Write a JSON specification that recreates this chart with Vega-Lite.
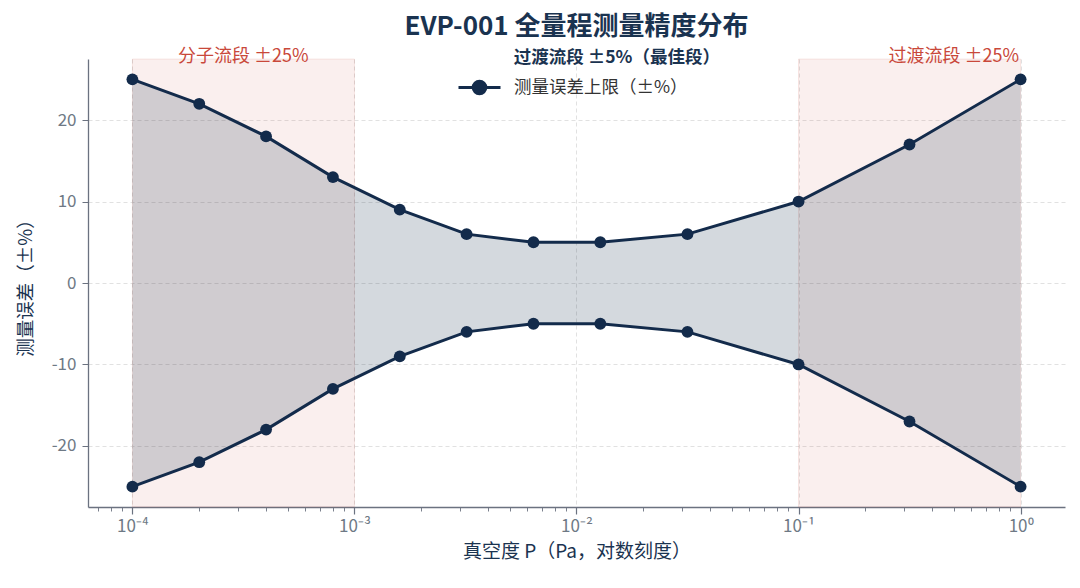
{
  "$schema": "https://vega.github.io/schema/vega-lite/v6.json",
  "autosize": {"type": "none"},
  "width": 977,
  "height": 448,
  "padding": {"left": 88, "top": 59, "right": 15, "bottom": 81},
  "background": "white",
  "config": {
    "font": "Noto Sans CJK SC",
    "view": {"stroke": null},
    "axis": {"labelFont": "Noto Sans CJK SC", "titleFont": "Noto Sans CJK SC"}
  },
  "title": {
    "text": "EVP-001 全量程测量精度分布",
    "fontSize": 26,
    "fontWeight": "bold",
    "color": "#1a3350",
    "anchor": "middle",
    "offset": 8
  },
  "datasets": {
    "main": [
      {"p": 0.0001, "upper": 25, "lower": -25},
      {"p": 0.0002, "upper": 22, "lower": -22},
      {"p": 0.0004, "upper": 18, "lower": -18},
      {"p": 0.0008, "upper": 13, "lower": -13},
      {"p": 0.0016, "upper": 9, "lower": -9},
      {"p": 0.0032, "upper": 6, "lower": -6},
      {"p": 0.0064, "upper": 5, "lower": -5},
      {"p": 0.0128, "upper": 5, "lower": -5},
      {"p": 0.0316, "upper": 6, "lower": -6},
      {"p": 0.1, "upper": 10, "lower": -10},
      {"p": 0.316, "upper": 17, "lower": -17},
      {"p": 1, "upper": 25, "lower": -25}
    ],
    "bands": [
      {"x0": 0.0001, "x1": 0.001},
      {"x0": 0.1, "x1": 1}
    ]
  },
  "layer": [
    {
      "data": {"name": "bands"},
      "mark": {"type": "rect", "fill": "#c0392b", "fillOpacity": 0.08, "stroke": "#c0392b", "strokeOpacity": 0.1, "strokeWidth": 1},
      "encoding": {
        "x": {
          "field": "x0", "type": "quantitative",
          "scale": {"type": "log", "domain": [0.0000631, 1.585], "nice": false},
          "axis": {
            "values": [0.00007, 0.00008, 0.00009, 0.0001, 0.0002, 0.0003, 0.0004, 0.0005, 0.0006, 0.0007, 0.0008, 0.0009, 0.001, 0.002, 0.003, 0.004, 0.005, 0.006, 0.007, 0.008, 0.009, 0.01, 0.02, 0.03, 0.04, 0.05, 0.06, 0.07, 0.08, 0.09, 0.1, 0.2, 0.3, 0.4, 0.5, 0.6, 0.7, 0.8, 0.9, 1],
            "labelExpr": "abs(log(datum.value)/LN10 - round(log(datum.value)/LN10)) < 0.001 ? ['10⁻⁴','10⁻³','10⁻²','10⁻¹','10⁰'][round(log(datum.value)/LN10)+4] : ''",
            "tickSize": {"condition": {"test": "abs(log(datum.value)/LN10 - round(log(datum.value)/LN10)) < 0.001", "value": 7}, "value": 4},
            "tickWidth": {"condition": {"test": "abs(log(datum.value)/LN10 - round(log(datum.value)/LN10)) < 0.001", "value": 1.2}, "value": 0.9},
            "grid": true,
            "gridOpacity": {"condition": {"test": "abs(log(datum.value)/LN10 - round(log(datum.value)/LN10)) < 0.001", "value": 1}, "value": 0},
            "gridColor": "#d9d9d9",
            "gridDash": [4, 3],
            "gridWidth": 0.8,
            "domainColor": "#6b7280",
            "domainWidth": 1.3,
            "tickColor": "#6b7280",
            "labelColor": "#6e7985",
            "labelFontSize": 17,
            "labelPadding": 4,
            "labelFlush": false,
            "labelOverlap": false,
            "title": "真空度 P（Pa，对数刻度）",
            "titleFontSize": 19,
            "titleFontWeight": "normal",
            "titleColor": "#1a3350",
            "titlePadding": 8
          }
        },
        "x2": {"field": "x1"}
      }
    },
    {
      "data": {"name": "main"},
      "mark": {"type": "area", "fill": "#0f2a4a", "fillOpacity": 0.18},
      "encoding": {
        "x": {"field": "p", "type": "quantitative"},
        "y": {
          "field": "lower", "type": "quantitative",
          "scale": {"domain": [-27.5, 27.5], "nice": false, "zero": false},
          "axis": {
            "values": [-20, -10, 0, 10, 20],
            "labelExpr": "'' + datum.value",
            "grid": true,
            "gridColor": "#d9d9d9",
            "gridDash": [4, 3],
            "gridWidth": 0.8,
            "domainColor": "#6b7280",
            "domainWidth": 1.3,
            "tickColor": "#6b7280",
            "tickSize": 6,
            "labelColor": "#6e7985",
            "labelFontSize": 17,
            "labelPadding": 6,
            "title": "测量误差（±%）",
            "titleFontSize": 18.5,
            "titleFontWeight": "normal",
            "titleColor": "#1a3350",
            "titlePadding": 16
          }
        },
        "y2": {"field": "upper"}
      }
    },
    {
      "data": {"name": "main"},
      "mark": {"type": "line", "strokeWidth": 3},
      "encoding": {
        "x": {"field": "p", "type": "quantitative"},
        "y": {"field": "upper", "type": "quantitative"},
        "stroke": {
          "datum": "测量误差上限（±%）",
          "type": "nominal",
          "scale": {"range": ["#132b4b"]},
          "legend": {
            "orient": "none",
            "legendX": 369,
            "legendY": 6,
            "title": null,
            "padding": 0,
            "symbolType": "M-1,0H1M-0.3,0A0.3,0.3 0 1,1 0.3,0A0.3,0.3 0 1,1 -0.3,0",
            "symbolSize": 1764,
            "symbolStrokeWidth": 3,
            "symbolStrokeColor": "#132b4b",
            "symbolFillColor": "#132b4b",
            "labelFontSize": 17.5,
            "labelColor": "#333333",
            "labelFont": "Noto Sans CJK SC",
            "labelOffset": 12,
            "labelLimit": 400,
            "encode": {"symbols": {"update": {"fill": {"value": "#132b4b"}, "stroke": {"value": "#132b4b"}, "strokeWidth": {"value": 3}}}}
          }
        }
      }
    },
    {
      "data": {"name": "main"},
      "mark": {"type": "line", "strokeWidth": 3, "color": "#132b4b"},
      "encoding": {
        "x": {"field": "p", "type": "quantitative"},
        "y": {"field": "lower", "type": "quantitative"}
      }
    },
    {
      "data": {"name": "main"},
      "mark": {"type": "point", "filled": true, "shape": "circle", "size": 140, "color": "#132b4b", "opacity": 1},
      "encoding": {
        "x": {"field": "p", "type": "quantitative"},
        "y": {"field": "upper", "type": "quantitative"}
      }
    },
    {
      "data": {"name": "main"},
      "mark": {"type": "point", "filled": true, "shape": "circle", "size": 140, "color": "#132b4b", "opacity": 1},
      "encoding": {
        "x": {"field": "p", "type": "quantitative"},
        "y": {"field": "lower", "type": "quantitative"}
      }
    },
    {
      "data": {"values": [{"p": 0.000316, "label": "分子流段 ±25%"}, {"p": 0.5, "label": "过渡流段 ±25%"}]},
      "mark": {"type": "text", "color": "#c9483a", "fontSize": 18, "align": "center", "baseline": "middle", "dy": -2, "clip": false},
      "encoding": {
        "x": {"field": "p", "type": "quantitative"},
        "y": {"datum": 27.5},
        "text": {"field": "label"}
      }
    },
    {
      "data": {"values": [{"p": 0.0152, "label": "过渡流段 ±5%（最佳段）"}]},
      "mark": {"type": "text", "color": "#1a3350", "fontSize": 17.5, "fontWeight": "bold", "align": "center", "baseline": "middle", "dy": -1, "clip": false},
      "encoding": {
        "x": {"field": "p", "type": "quantitative"},
        "y": {"datum": 27.5},
        "text": {"field": "label"}
      }
    }
  ]
}
